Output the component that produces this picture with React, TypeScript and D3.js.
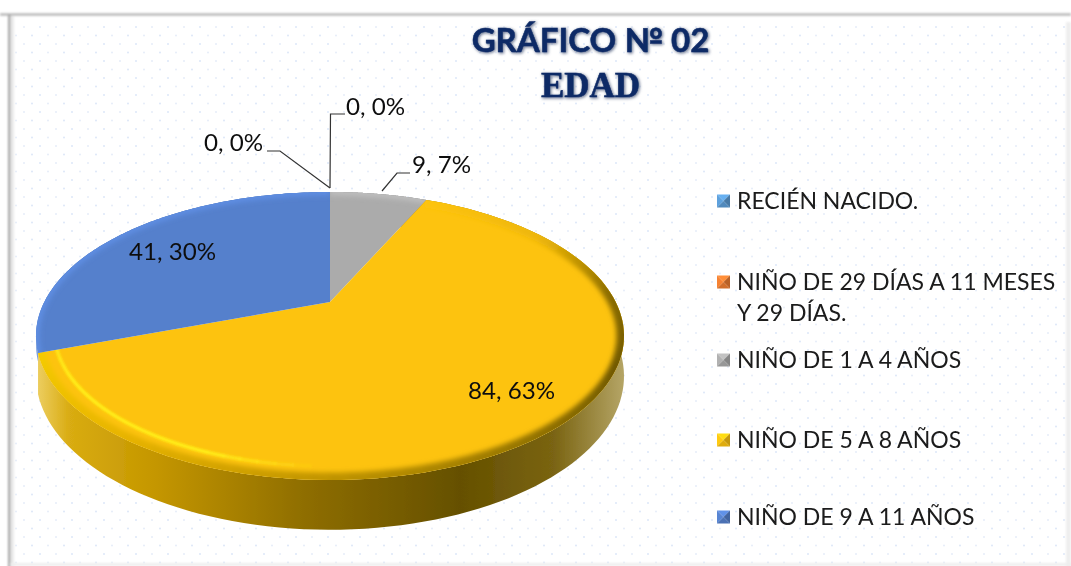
import React from "react";
import * as d3 from "d3";

const categories = ["RECIÉN NACIDO.", "NIÑO DE 29 DÍAS A 11 MESES|Y 29 DÍAS.", "NIÑO DE 1 A 4 AÑOS", "NIÑO DE 5 A 8 AÑOS", "NIÑO DE 9 A 11 AÑOS"];
const values = [0, 0, 9, 84, 41];
const percents = ["0%", "0%", "7%", "63%", "30%"];
const colors = ["#5B9BD5", "#ED7D31", "#ABABAB", "#FDC30F", "#5580CC"];
const sideColors = ["#3E6E9A", "#A85520", "#777777", "url(#sideY)", "url(#sideB)"];

const W = 1071, H = 566;
const cx = 330, cy = 302, Rx = 285.7, Sy = 136, persp = 0.236, depth = 38;

const project = (a: number, r = 1, dy = 0): [number, number] => {
  const w = 1 + persp * r * Math.cos(a);
  return [cx + (Rx * r * Math.sin(a)) / w, cy - (Sy * r * Math.cos(a)) / w + dy / w];
};
const line = d3.line<[number, number]>();
const sample = (a0: number, a1: number) => d3.range(0, 1.0001, 1 / 120).map((t) => a0 + (a1 - a0) * t);
const rim = (a0: number, a1: number, dy = 0, r = 1) => sample(a0, a1).map((a) => project(a, r, dy));
const rad = (deg: number) => (deg * Math.PI) / 180;

const arcs = d3.pie<number>().sort(null).startAngle(0).endAngle(2 * Math.PI)(values);

// bevel shading along the rim of the large slice, by angle in degrees
const bevelColor = d3.scaleLinear<string>()
  .domain([24, 55, 85, 115, 150, 185, 215, 250])
  .range(["#FDC30F", "#EDB608", "#8A6C00", "#705800", "#9C7A00", "#C89A00", "#E8B400", "#F5CC00"]);
const hiOpacity = d3.scaleLinear().domain([180, 200, 235, 252]).range([0, 1, 1, 0.7]).clamp(true);
const bevelSteps = d3.range(24, 250, 3);
const hiSteps = d3.range(180, 250, 3);

const labelPos: [number, number][] = [[233.5, 143], [375.5, 107], [441.5, 165], [511.5, 391], [172.5, 252]];
const leaders: ([number, number][] | null)[] = [
  [[267, 151], [280, 151], [330, 188]],
  [[345, 114], [330.5, 114], [330, 188]],
  [[410, 173], [397, 173], [382, 191]],
  null,
  null,
];
const legendY = [201, 282, 360, 440, 517];
const LINE_GAP = 31;

const Swatch = ({ y, color }: { y: number; color: string }) => {
  const x0 = 717, x1 = 730, y0 = y - 6.5, y1 = y + 6.5, mx = 723.5, my = y;
  const c = d3.color(color)!;
  const tri = (p: number[][], fill: string, key: string) => <polygon key={key} points={p.map((q) => q.join(",")).join(" ")} fill={fill} />;
  return (
    <g>
      {tri([[x0, y0], [x1, y0], [mx, my]], c.brighter(0.35).formatHex(), "t")}
      {tri([[x0, y0], [x0, y1], [mx, my]], c.brighter(0.1).formatHex(), "l")}
      {tri([[x1, y0], [x1, y1], [mx, my]], c.darker(0.7).formatHex(), "r")}
      {tri([[x0, y1], [x1, y1], [mx, my]], c.darker(0.35).formatHex(), "b")}
    </g>
  );
};

export default function App() {
  const font = "Lato, 'Noto Sans', sans-serif";
  return (
    <svg width={W} height={H} viewBox={`0 0 ${W} ${H}`} style={{ position: "fixed", left: 0, top: 0, display: "block", background: "#fff" }}>
      <defs>
        <pattern id="dots" width="32" height="17" patternUnits="userSpaceOnUse" x="6" y="25">
          <circle cx="2" cy="2" r="1" fill="#dde7f8" />
          <circle cx="18" cy="2" r="1" fill="#e6edf9" />
          <circle cx="10" cy="10.5" r="1" fill="#e6edf9" />
          <circle cx="26" cy="10.5" r="1" fill="#dde7f8" />
        </pattern>
        <linearGradient id="sideY" gradientUnits="userSpaceOnUse" x1="40" x2="624" y1="0" y2="0">
          <stop offset="0" stopColor="#EBCB5A" />
          <stop offset="0.05" stopColor="#D9AC12" />
          <stop offset="0.2" stopColor="#C49600" />
          <stop offset="0.45" stopColor="#8F6E00" />
          <stop offset="0.72" stopColor="#655000" />
          <stop offset="0.88" stopColor="#7A6412" />
          <stop offset="1" stopColor="#B5A566" />
        </linearGradient>
        <linearGradient id="sideB" gradientUnits="userSpaceOnUse" x1="36" x2="60" y1="0" y2="0">
          <stop offset="0" stopColor="#7EA3E0" />
          <stop offset="1" stopColor="#4A70B5" />
        </linearGradient>
        <filter id="soft" filterUnits="userSpaceOnUse" x="0" y="150" width="680" height="400"><feGaussianBlur stdDeviation="2.8" /></filter>
        <filter id="hi" filterUnits="userSpaceOnUse" x="0" y="150" width="680" height="400"><feGaussianBlur stdDeviation="1.3" /></filter>
        <filter id="edge" x="-5%" y="-5%" width="110%" height="110%"><feGaussianBlur stdDeviation="0.7" /></filter>
        <filter id="txt" x="-5%" y="-20%" width="110%" height="140%"><feGaussianBlur stdDeviation="0.35" /></filter>
        <filter id="shadow" x="-10%" y="-30%" width="120%" height="160%"><feGaussianBlur stdDeviation="1.8" /></filter>
        <filter id="frameBlur" x="-2%" y="-2%" width="104%" height="104%"><feGaussianBlur stdDeviation="0.8" /></filter>
        {arcs.map((a, i) => (
          <clipPath id={`clip${i}`} key={i}>
            <path d={line([[cx, cy], ...rim(a.startAngle, a.endAngle)])! + "Z"} />
          </clipPath>
        ))}
      </defs>

      <rect x={10} y={15} width={1058} height={548} fill="#fff" />
      <rect x={10} y={24} width={1056} height={540} fill="url(#dots)" />
      <g filter="url(#frameBlur)">
        <rect x={0} y={13.5} width={W} height={2} fill="#a8a8a8" />
        <rect x={8} y={14} width={2.5} height={H} fill="#a8a8a8" />
        <rect x={11} y={16} width={3} height={H} fill="#e9e9e9" />
        <rect x={1066} y={22} width={5} height={H} fill="#eeeeee" />
        <rect x={10} y={563} width={W} height={3} fill="#eeeeee" />
      </g>

      {arcs.map((a, i) =>
        a.value > 0 ? (
          <path
            key={`s${i}`}
            d={line([...rim(a.startAngle, a.endAngle), ...rim(a.startAngle, a.endAngle, i === 4 ? 8 : depth).reverse()])! + "Z"}
            fill={sideColors[i]}
            filter="url(#edge)"
          />
        ) : null
      )}
      {arcs.map((a, i) =>
        a.value > 0 ? (
          <g key={`t${i}`}>
            <path d={line([[cx, cy], ...rim(a.startAngle, a.endAngle)])! + "Z"} fill={colors[i]} />
            <g clipPath={`url(#clip${i})`}>
              {i === 3 ? (
                <>
                  <g filter="url(#soft)" fill="none" strokeWidth={15}>
                    {bevelSteps.map((d) => (
                      <path key={d} d={line(rim(rad(d), rad(d + 3.4)))!} stroke={bevelColor(d)} />
                    ))}
                  </g>
                  <g filter="url(#hi)" fill="none" strokeWidth={3.5} stroke="#FFEE18">
                    {hiSteps.map((d) => (
                      <path key={d} d={line(rim(rad(d), rad(d + 3.4), 0, 0.94))!} strokeOpacity={hiOpacity(d)} />
                    ))}
                  </g>
                </>
              ) : (
                <path
                  d={line(rim(a.startAngle, a.endAngle))!}
                  fill="none"
                  stroke={d3.color(colors[i])!.brighter(0.3).formatHex()}
                  strokeWidth={7}
                  filter="url(#soft)"
                />
              )}
            </g>
          </g>
        ) : null
      )}

      <g stroke="#333" strokeWidth={1.2} fill="none">
        {leaders.map((l, i) => (l ? <path key={i} d={line(l)!} /> : null))}
      </g>

      <g filter="url(#txt)">
        <g textAnchor="middle" fontFamily={font} fontSize={24} fill="#111">
          {arcs.map((a, i) => (
            <text key={i} x={labelPos[i][0]} y={labelPos[i][1] + 8} textLength={i > 2 ? 87 : 59} lengthAdjust="spacingAndGlyphs">
              {`${a.value}, ${percents[i]}`}
            </text>
          ))}
        </g>

        <g fontFamily={font} fontSize={23} fill="#1a1a1a">
          {categories.map((c, i) => {
            const parts = c.split("|");
            return (
              <g key={i}>
                {parts.map((p, j) => (
                  <text key={j} x={737} y={legendY[i] + 8 + j * LINE_GAP}>{p}</text>
                ))}
              </g>
            );
          })}
        </g>
      </g>
      {categories.map((c, i) => (
        <Swatch key={c} y={legendY[i]} color={colors[i]} />
      ))}

      <g textAnchor="middle" fontWeight={700} fill="#6f7a94" stroke="#6f7a94" strokeWidth={1} filter="url(#shadow)">
        <text x={591.5} y={53} fontFamily={font} fontSize={33}>GRÁFICO № 02</text>
        <text x={591.5} y={98} fontFamily="'Liberation Serif', serif" fontSize={35}>EDAD</text>
      </g>
      <g textAnchor="middle" fontWeight={700} fill="#0B2A66" stroke="#0B2A66" strokeWidth={0.5} filter="url(#txt)">
        <text x={590.5} y={52} fontFamily={font} fontSize={33}>GRÁFICO № 02</text>
        <text x={590.5} y={97} fontFamily="'Liberation Serif', serif" fontSize={35}>EDAD</text>
      </g>
    </svg>
  );
}
